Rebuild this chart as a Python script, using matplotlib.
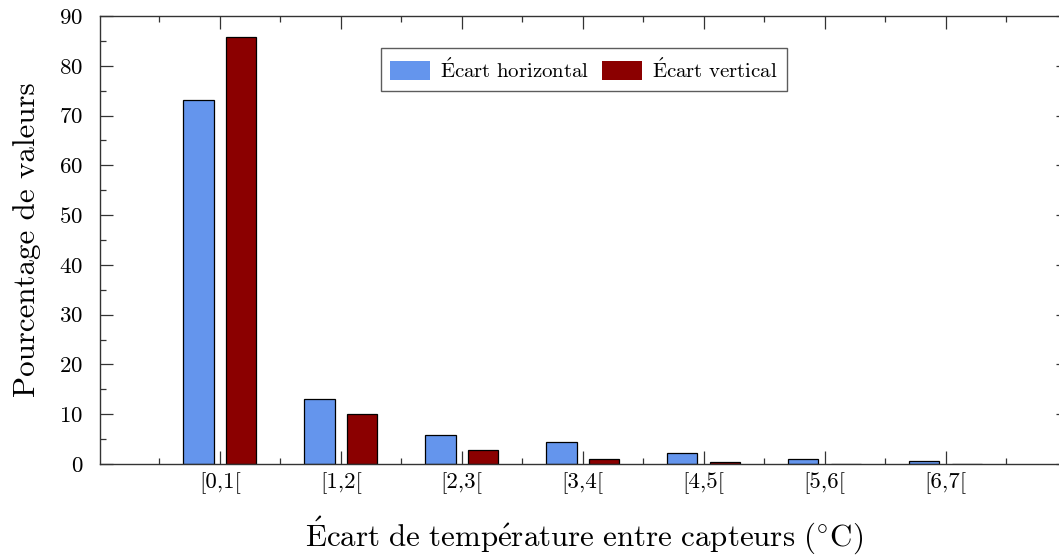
import matplotlib
matplotlib.use("Agg")
import matplotlib.pyplot as plt
import numpy as np

plt.rcParams['font.family'] = 'serif'
plt.rcParams['font.serif'] = ['cmr10']
plt.rcParams['mathtext.fontset'] = 'cm'
plt.rcParams['axes.formatter.use_mathtext'] = True

categories = ['[0,1[', '[1,2[', '[2,3[', '[3,4[', '[4,5[', '[5,6[', '[6,7[']
horizontal = [73.1, 13.0, 5.8, 4.35, 2.25, 1.05, 0.55]
vertical = [85.8, 10.0, 2.8, 1.05, 0.4, 0.1, 0.0]

label_h = r'$\acute{\mathrm{E}}\mathrm{cart\ horizontal}$'
label_v = r'$\acute{\mathrm{E}}\mathrm{cart\ vertical}$'
xlabel = r'$\acute{\mathrm{E}}\mathrm{cart\ de\ temp\acute{e}rature\ entre\ capteurs\ (^{\circ}C)}$'
ylabel = 'Pourcentage de valeurs'

W, H = 1059, 557
ax_l, ax_r, ax_b, ax_t = 100, 1069, 464, 16

fig = plt.figure(figsize=(W / 100, H / 100), dpi=100)
ax = fig.add_axes([ax_l / W, 1 - ax_b / H, (ax_r - ax_l) / W, (ax_b - ax_t) / H])

x = np.arange(len(categories))
w = 0.25
ax.bar(x - 0.176, horizontal, w, color='#6495ED', edgecolor='black', linewidth=0.9,
       label=label_h)
ax.bar(x + 0.176, vertical, w, color='#8B0000', edgecolor='black', linewidth=0.9,
       label=label_v)

ax.set_xlim(-0.99, 7.02)
ax.set_ylim(0, 90)
ax.set_xticks(x)
ax.set_xticklabels(categories)
ax.set_xticks(np.arange(-0.5, 7.0, 1.0), minor=True)
ax.set_yticks(np.arange(0, 91, 10))
ax.set_yticks(np.arange(5, 90, 10), minor=True)

ax.tick_params(which='both', direction='in', top=True, right=True, color='#333333')
ax.tick_params(which='major', length=9.5, width=0.9, labelsize=16.5)
ax.tick_params(which='minor', length=4.5, width=0.9)
ax.tick_params(axis='x', which='major', pad=6)
ax.tick_params(axis='y', which='major', pad=12)
for s in ax.spines.values():
    s.set_color('#333333')
    s.set_linewidth(1.0)

ax.set_xlabel(xlabel, fontsize=22.3, labelpad=15)
ax.set_ylabel(ylabel, fontsize=22.3, labelpad=13)

leg_cx = (584 - ax_l) / (ax_r - ax_l)
leg_top = 1 - (48 - ax_t) / (ax_b - ax_t)
leg = ax.legend(ncol=2, loc='upper center', bbox_to_anchor=(leg_cx, leg_top),
                fontsize=15, frameon=True, fancybox=False, edgecolor='#333333',
                handlelength=1.9, handleheight=1.05, columnspacing=0.6, handletextpad=0.5,
                borderpad=0.45, borderaxespad=0)
leg.get_frame().set_linewidth(1.0)
for h in leg.legend_handles:
    h.set_edgecolor('none')

fig.savefig('out.png', dpi=100)
